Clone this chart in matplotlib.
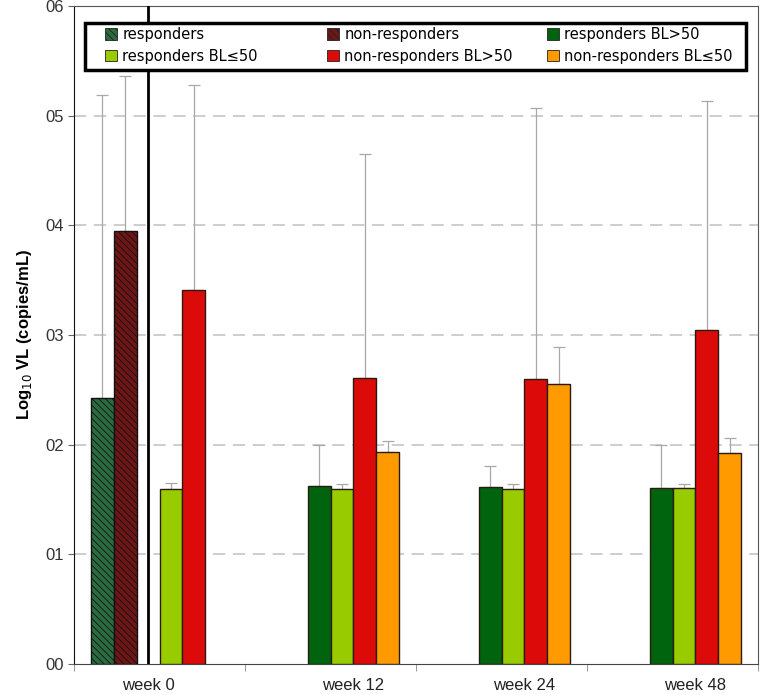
import numpy as np
import matplotlib
matplotlib.use("Agg")
import matplotlib.pyplot as plt
from matplotlib.patches import Patch, Rectangle
from matplotlib.legend import Legend

weeks = ['week 0', 'week 12', 'week 24', 'week 48']
labels = ['responders', 'non-responders', 'responders BL>50',
          'responders BL\u226450', 'non-responders BL>50', 'non-responders BL\u226450']
nan = np.nan
# mean log10 VL per series, one value per week (nan = no bar)
resp_all = [2.43, nan, nan, nan]
nonresp_all = [3.95, nan, nan, nan]
resp_hi = [nan, 1.62, 1.61, 1.605]
resp_lo = [1.60, 1.60, 1.60, 1.605]
nonresp_hi = [3.41, 2.61, 2.60, 3.045]
nonresp_lo = [nan, 1.93, 2.55, 1.92]
# upper end of the error bars
resp_all_top = [5.19, nan, nan, nan]
nonresp_all_top = [5.36, nan, nan, nan]
resp_hi_top = [nan, 2.00, 1.81, 2.00]
resp_lo_top = [1.65, 1.645, 1.645, 1.64]
nonresp_hi_top = [5.28, 4.65, 5.07, 5.13]
nonresp_lo_top = [nan, 2.03, 2.895, 2.06]

series = [resp_all, nonresp_all, resp_hi, resp_lo, nonresp_hi, nonresp_lo]
tops = [resp_all_top, nonresp_all_top, resp_hi_top, resp_lo_top, nonresp_hi_top, nonresp_lo_top]
colors = ['#2b6b40', '#6e1616', '#00640f', '#99cc00', '#dd0a0a', '#ff9a00']
hatches = ['\\\\\\\\\\', '\\\\\\\\\\', None, None, None, None]

plt.rcParams['font.family'] = ['Liberation Sans', 'DejaVu Sans']
plt.rcParams['hatch.linewidth'] = 0.6

fig = plt.figure(figsize=(7.62, 6.95), dpi=100)
ax = fig.add_axes([74 / 762, 1 - 664 / 695, 684 / 762, 658 / 695])

x = np.arange(len(weeks))
w = 0.1345
offsets = (np.arange(6) - 2.5) * w

for i in range(6):
    vals = np.array(series[i], dtype=float)
    top = np.array(tops[i], dtype=float)
    ok = ~np.isnan(vals)
    xi = x[ok] + offsets[i]
    ax.errorbar(xi, vals[ok], yerr=[np.zeros(ok.sum()), top[ok] - vals[ok]],
                fmt='none', ecolor='#a8a8a8', elinewidth=0.9, capsize=4,
                capthick=0.9, zorder=2)
    edge = '#111111' if hatches[i] else '#2a1a10'
    ax.bar(xi, vals[ok], w, color=colors[i], edgecolor=edge, linewidth=1.0,
           hatch=hatches[i], zorder=3)

# separator between overall and baseline-split bars
ax.axvline(x[0] + offsets[2], color='black', lw=2, zorder=4)

# tick labels centred on the bars present in each week
centers = []
for j in range(len(weeks)):
    used = [offsets[i] for i in range(6) if not np.isnan(series[i][j])]
    centers.append(x[j] + (min(used) + max(used)) / 2)
ax.set_xticks(centers)
ax.set_xticklabels(weeks, fontsize=12, color='#222222')
ax.tick_params(axis='x', length=0, pad=10)
ax.set_xticks(np.arange(len(weeks) + 1) - 0.5, minor=True)
ax.tick_params(axis='x', which='minor', length=5, color='#888888', direction='out')
ax.set_xlim(-0.5, 3.5)

ax.set_ylim(0, 6)
ax.set_yticks(range(7))
ax.set_yticklabels(['0%d' % v for v in range(7)], fontsize=12, color='#333333')
ax.tick_params(axis='y', length=4, color='#666666', direction='out', pad=3.5)
for v in range(1, 6):
    ax.axhline(v, color='#c0c0c0', lw=1.1, ls=(0, (8, 5)), zorder=1)

ax.set_ylabel('Log$_{10}$ VL (copies/mL)', fontsize=12, fontweight='bold', labelpad=8)

for s in ['top', 'right']:
    ax.spines[s].set_color('#555555')
    ax.spines[s].set_linewidth(0.8)
ax.spines['left'].set_color('#111111')
ax.spines['bottom'].set_color('#444444')

# legend: boxed, three evenly spaced columns
ax.add_patch(Rectangle((11 / 684, 594 / 658), 661 / 684, 47 / 658, transform=ax.transAxes,
                       facecolor='white', edgecolor='black', lw=2.5, zorder=9))
handles = [Patch(facecolor=colors[i], edgecolor='#222222', hatch=hatches[i], linewidth=0.6,
                 label=labels[i]) for i in range(6)]
cols = [[0, 3], [1, 4], [2, 5]]
col_x = [105, 327, 547]
for c, px in zip(cols, col_x):
    leg = Legend(ax, [handles[k] for k in c], [labels[k] for k in c],
                 loc='upper left', bbox_to_anchor=((px - 74) / 684, (664 - 27) / 658),
                 bbox_transform=ax.transAxes,
                 frameon=False, prop={'family': 'DejaVu Sans', 'size': 10.5},
                 handlelength=0.85, handleheight=0.85, handletextpad=0.35,
                 borderpad=0, labelspacing=0.45, borderaxespad=0)
    leg.set_zorder(10)
    ax.add_artist(leg)

fig.savefig('out.png', dpi=100)
